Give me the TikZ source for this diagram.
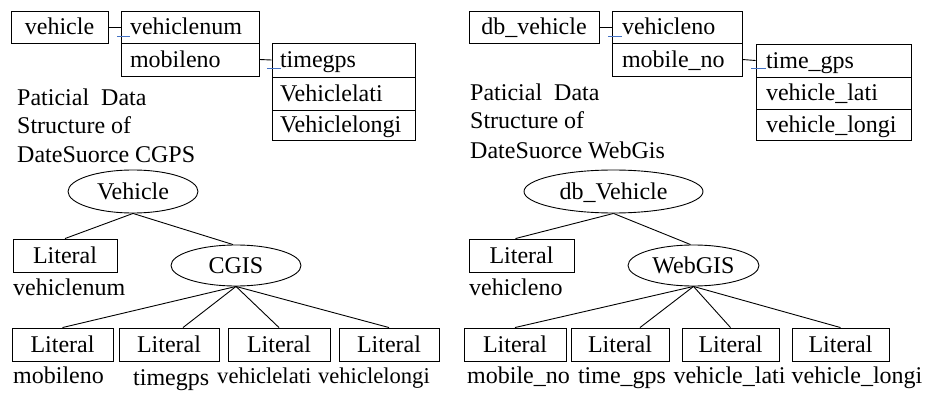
\documentclass[tikz,border=0pt]{standalone}
\usepackage{fontspec}
\setmainfont{Liberation Serif}
\usetikzlibrary{shapes.geometric}
\definecolor{linkblue}{RGB}{68,114,196}
\begin{document}
\begin{tikzpicture}[x=1pt,y=-1pt,
  font=\fontsize{24}{29}\selectfont,
  every node/.style={inner sep=0pt, text height=18pt, text depth=2pt},
  box/.style={draw, line width=0.9pt},
  rowbox/.style={draw, line width=0.9pt, inner xsep=9pt, align=left},
  oval/.style={draw, ellipse, line width=0.9pt},
  edge/.style={line width=0.9pt},
  blueline/.style={draw=linkblue, line width=1pt},
  lbl/.style={anchor=base west},
  para/.style={align=left, anchor=base west, text height=, text depth=}]
\useasboundingbox (0,0) rectangle (929,393);

% ---------- left top tables ----------
\node[box, minimum width=97, minimum height=32] (veh) at (59.5,27) {vehicle};
\node[rowbox, text width=120, minimum height=32] (vnum) at (190,27) {vehiclenum};
\node[rowbox, text width=120, minimum height=33] (mob) at (190,59.5) {mobileno};
\node[rowbox, inner xsep=8pt, text width=127, minimum height=34] (tg) at (343.5,60) {timegps};
\node[rowbox, inner xsep=8pt, text width=127, minimum height=33] (vlat) at (343.5,93.5) {Vehiclelati};
\node[rowbox, inner xsep=8pt, text width=127, minimum height=30] (vlon) at (343.5,125) {Vehiclelongi};
\draw[edge] (veh.east) -- (vnum.west);
\draw[edge] (mob.east) -- (tg.west);
\draw[blueline] (117,36.5) -- (130,36.5);
\draw[blueline] (267,69) -- (281,69);

\node[para] (capL) at (17,163) {Paticial\ \ Data\\Structure of\\DateSuorce CGPS};

% ---------- right top tables ----------
\node[box, minimum width=130, minimum height=32] (dbv) at (534,27) {db\_vehicle};
\node[rowbox, inner xsep=10pt, text width=110, minimum height=32] (vno) at (677,27) {vehicleno};
\node[rowbox, inner xsep=10pt, text width=110, minimum height=33] (mno) at (677,59.5) {mobile\_no};
\node[rowbox, inner xsep=10pt, text width=135, minimum height=33] (tgps) at (833.5,60.5) {time\_gps};
\node[rowbox, inner xsep=10pt, text width=135, minimum height=32] (vlat2) at (833.5,93) {vehicle\_lati};
\node[rowbox, inner xsep=10pt, text width=135, minimum height=31] (vlon2) at (833.5,124.5) {vehicle\_longi};
\draw[edge] (dbv.east) -- (vno.west);
\draw[edge] (mno.east) -- (tgps.west);
\draw[blueline] (608,37) -- (622,37);
\draw[blueline] (751,69) -- (766,69);

\node[para] (capR) at (470,158) {Paticial\ \ Data\\Structure of\\DateSuorce WebGis};

% ---------- left tree ----------
\node[oval, minimum width=130, minimum height=43] (vehO) at (133,191.5) {Vehicle};
\node[box, minimum width=104, minimum height=33] (litA) at (65,255.5) {Literal};
\node[oval, minimum width=130, minimum height=41] (cgis) at (236,265.5) {CGIS};
\node[lbl] (lA) at (13,295) {vehiclenum};
\node[box, minimum width=101, minimum height=33] (b1) at (62.5,344.5) {Literal};
\node[box, minimum width=100, minimum height=33] (b2) at (169,344.5) {Literal};
\node[box, minimum width=102, minimum height=33] (b3) at (279,344.5) {Literal};
\node[box, minimum width=100, minimum height=33] (b4) at (389,344.5) {Literal};
\node[lbl] (l1) at (13,383) {mobileno};
\node[lbl] (l2) at (133,385) {timegps};
\node[lbl, font=\fontsize{22.6}{27}\selectfont] (l3) at (217,383) {vehiclelati};
\node[lbl, font=\fontsize{22.6}{27}\selectfont, anchor=base east] (l4) at (430,383) {vehiclelongi};
\draw[edge] (vehO.south) -- (litA.north);
\draw[edge] (vehO.south) -- ([xshift=-3]cgis.north);
\draw[edge] (cgis.south) -- (b1.north);
\draw[edge] (cgis.south) -- ([xshift=14]b2.north);
\draw[edge] (cgis.south) -- (b3.north);
\draw[edge] (cgis.south) -- (b4.north);

% ---------- right tree ----------
\node[oval, minimum width=179, minimum height=43] (dbO) at (613.5,191.5) {db\_Vehicle};
\node[box, minimum width=105, minimum height=33] (litB) at (521.5,255.5) {Literal};
\node[oval, minimum width=131, minimum height=41] (web) at (693.5,265.5) {WebGIS};
\node[lbl] (lB) at (469,295) {vehicleno};
\node[box, minimum width=102, minimum height=33] (c1) at (515,344.5) {Literal};
\node[box, minimum width=98, minimum height=33] (c2) at (620,344.5) {Literal};
\node[box, minimum width=97, minimum height=33] (c3) at (730.5,344.5) {Literal};
\node[box, minimum width=97, minimum height=33] (c4) at (840.5,344.5) {Literal};
\node[lbl, anchor=base] (m1) at (518.5,383) {mobile\_no};
\node[lbl, anchor=base] (m2) at (622,383) {time\_gps};
\node[lbl, anchor=base] (m3) at (729.5,383) {vehicle\_lati};
\node[lbl, anchor=base] (m4) at (857,383) {vehicle\_longi};
\draw[edge] (dbO.south) -- ([xshift=-6]litB.north);
\draw[edge] (dbO.south) -- ([xshift=-3]web.north);
\draw[edge] (web.south) -- (c1.north);
\draw[edge] (web.south) -- ([xshift=20]c2.north);
\draw[edge] (web.south) -- (c3.north);
\draw[edge] (web.south) -- (c4.north);
\end{tikzpicture}
\end{document}
